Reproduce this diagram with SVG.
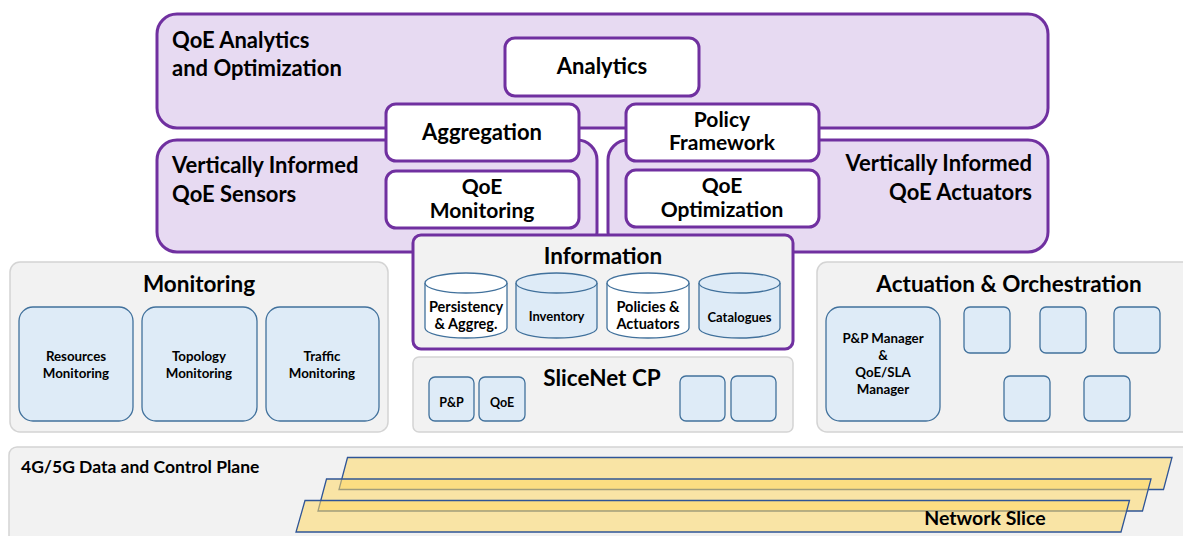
<svg xmlns="http://www.w3.org/2000/svg" width="1183" height="536" viewBox="0 0 1183 536">
  <style>
    text { font-family: Lato, "Open Sans", "Liberation Sans", sans-serif; font-weight: bold; fill: #000; }
    .purple { fill: #E7DAF2; stroke: #7030A0; stroke-width: 3; }
    .white { fill: #FFFFFF; stroke: #7030A0; stroke-width: 3; }
    .grey { fill: #F2F2F2; stroke: #D4D4D4; stroke-width: 1.5; }
    .info { fill: #F2F2F2; stroke: #7030A0; stroke-width: 3; }
    .blue { fill: #DEEBF7; stroke: #41719C; stroke-width: 1.3; }
    .cylw { fill: #FFFFFF; stroke: #41719C; stroke-width: 1.3; }
    .slice { fill: #FFD966; fill-opacity: 0.55; stroke: #2F5597; stroke-width: 1.3; }
    .title { font-size: 22.5px; }
    .box { font-size: 22px; }
    .box2 { font-size: 21px; }
    .cyl { font-size: 13px; }
    .cyl2 { font-size: 14.5px; }
    .sub { font-size: 13.3px; }
    .tiny { font-size: 12.5px; }
    .mid { text-anchor: middle; }
    .end { text-anchor: end; }
  </style>

  <!-- 4G/5G data and control plane with stacked network slices -->
  <g id="data-plane">
    <rect class="grey" x="9" y="447" width="1185" height="100" rx="8"/>
    <text x="21" y="473" style="font-size:17.5px">4G/5G Data and Control Plane</text>
    <polygon class="slice" points="347.5,457.5 1172,457.5 1163.5,489.5 339,489.5"/>
    <polygon class="slice" points="326.5,479 1151,479 1142.5,511 318,511"/>
    <polygon class="slice" points="305,500.5 1129.5,500.5 1121,532 296,532"/>
    <text x="985" y="525" class="mid" style="font-size:19.5px">Network Slice</text>
  </g>

  <!-- Monitoring -->
  <g id="monitoring">
    <rect class="grey" x="10" y="262" width="378" height="170" rx="10"/>
    <text x="199" y="292" class="mid title">Monitoring</text>
  </g>
  <g id="resources-monitoring">
    <rect class="blue" x="19" y="307" width="114" height="114" rx="14"/>
    <text x="76" y="361" class="mid sub">Resources</text>
    <text x="76" y="378" class="mid sub">Monitoring</text>
  </g>
  <g id="topology-monitoring">
    <rect class="blue" x="142" y="307" width="115" height="114" rx="14"/>
    <text x="199" y="361" class="mid sub">Topology</text>
    <text x="199" y="378" class="mid sub">Monitoring</text>
  </g>
  <g id="traffic-monitoring">
    <rect class="blue" x="266" y="307" width="113" height="114" rx="14"/>
    <text x="322" y="361" class="mid sub">Traffic</text>
    <text x="322" y="378" class="mid sub">Monitoring</text>
  </g>

  <!-- Actuation & Orchestration -->
  <g id="actuation">
    <rect class="grey" x="817" y="262" width="380" height="170" rx="10"/>
    <text x="1009" y="292" class="mid title">Actuation &amp; Orchestration</text>
  </g>
  <g id="pp-manager">
    <rect class="blue" x="826" y="307" width="114" height="114" rx="14"/>
    <text x="883" y="343" class="mid sub">P&amp;P Manager</text>
    <text x="883" y="360" class="mid sub">&amp;</text>
    <text x="883" y="377" class="mid sub">QoE/SLA</text>
    <text x="883" y="394" class="mid sub">Manager</text>
  </g>
  <g id="actuators">
    <rect class="blue" x="964" y="307" width="46" height="46" rx="6"/>
    <rect class="blue" x="1040" y="307" width="46" height="46" rx="6"/>
    <rect class="blue" x="1114" y="307" width="46" height="46" rx="6"/>
    <rect class="blue" x="1004" y="376" width="46" height="45" rx="6"/>
    <rect class="blue" x="1084" y="376" width="46" height="45" rx="6"/>
  </g>

  <!-- SliceNet control plane -->
  <g id="slicenet-cp">
    <rect class="grey" x="413" y="357" width="380" height="75" rx="6"/>
    <text x="602" y="386" class="mid title">SliceNet CP</text>
  </g>
  <g id="cp-pp">
    <rect class="blue" x="429" y="377" width="45" height="44" rx="6"/>
    <text x="451.5" y="407" class="mid tiny">P&amp;P</text>
  </g>
  <g id="cp-qoe">
    <rect class="blue" x="479" y="377" width="46" height="44" rx="6"/>
    <text x="502" y="407" class="mid tiny">QoE</text>
  </g>
  <g id="cp-slots">
    <rect class="blue" x="680" y="376" width="45" height="45" rx="6"/>
    <rect class="blue" x="731" y="376" width="45" height="45" rx="6"/>
  </g>

  <!-- QoE analytics layer -->
  <g id="qoe-analytics">
    <rect class="purple" x="157" y="14" width="891" height="114" rx="20"/>
    <text x="172" y="48" class="box">QoE Analytics</text>
    <text x="172" y="76" class="box">and Optimization</text>
  </g>
  <g id="qoe-sensors">
    <rect class="purple" x="157" y="140" width="440" height="112" rx="20"/>
    <text x="172" y="173" class="box">Vertically Informed</text>
    <text x="172" y="202" class="box">QoE Sensors</text>
  </g>
  <g id="qoe-actuators">
    <rect class="purple" x="608" y="140" width="440" height="112" rx="20"/>
    <text x="1032" y="171" class="end box">Vertically Informed</text>
    <text x="1032" y="200" class="end box">QoE Actuators</text>
  </g>
  <g id="analytics">
    <rect class="white" x="505" y="38" width="194" height="58" rx="10"/>
    <text x="602" y="74" class="mid box">Analytics</text>
  </g>
  <g id="aggregation">
    <rect class="white" x="386" y="104" width="193" height="57" rx="10"/>
    <text x="482" y="140" class="mid box">Aggregation</text>
  </g>
  <g id="policy-framework">
    <rect class="white" x="626" y="104" width="193" height="57" rx="10"/>
    <text x="722" y="126.5" class="mid box2">Policy</text>
    <text x="722" y="150" class="mid box2">Framework</text>
  </g>
  <g id="qoe-monitoring">
    <rect class="white" x="386" y="171" width="193" height="57" rx="10"/>
    <text x="482" y="194" class="mid box2">QoE</text>
    <text x="482" y="217.5" class="mid box2">Monitoring</text>
  </g>
  <g id="qoe-optimization">
    <rect class="white" x="626" y="170" width="193" height="57" rx="10"/>
    <text x="722" y="193" class="mid box2">QoE</text>
    <text x="722" y="216.5" class="mid box2">Optimization</text>
  </g>

  <!-- Information repositories -->
  <g id="information">
    <rect class="info" x="413" y="235" width="380" height="114" rx="8"/>
    <text x="603" y="264" class="mid title">Information</text>
  </g>
  <g id="persistency">
    <path class="cylw" d="M425,283 A41,10 0 0 1 507,283 V328 A41,10 0 0 1 425,328 Z"/>
    <path class="cylw" d="M425,283 A41,10 0 0 0 507,283"/>
    <text x="466" y="312" class="mid cyl2">Persistency</text>
    <text x="466" y="329" class="mid cyl2">&amp; Aggreg.</text>
  </g>
  <g id="inventory">
    <path class="blue" d="M516,283 A40.5,10 0 0 1 597,283 V328 A40.5,10 0 0 1 516,328 Z"/>
    <path class="blue" d="M516,283 A40.5,10 0 0 0 597,283"/>
    <text x="556.5" y="321" class="mid cyl">Inventory</text>
  </g>
  <g id="policies">
    <path class="cylw" d="M607,283 A41,10 0 0 1 689,283 V328 A41,10 0 0 1 607,328 Z"/>
    <path class="cylw" d="M607,283 A41,10 0 0 0 689,283"/>
    <text x="648" y="312" class="mid cyl2">Policies &amp;</text>
    <text x="648" y="329" class="mid cyl2">Actuators</text>
  </g>
  <g id="catalogues">
    <path class="blue" d="M699,283 A40.5,10 0 0 1 780,283 V328 A40.5,10 0 0 1 699,328 Z"/>
    <path class="blue" d="M699,283 A40.5,10 0 0 0 780,283"/>
    <text x="739.5" y="322" class="mid cyl">Catalogues</text>
  </g>
</svg>
